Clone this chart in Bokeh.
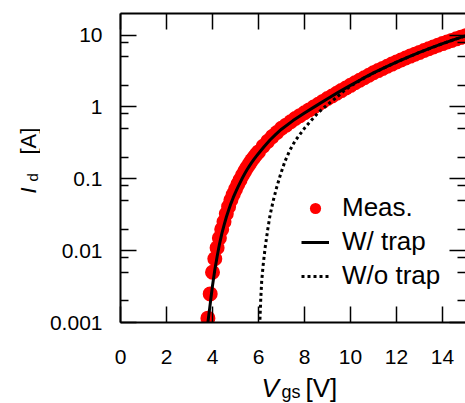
import math
from bokeh.plotting import figure
from bokeh.layouts import row, column
from bokeh.models import (Range1d, LogAxis, LinearAxis, FixedTicker, CustomJSTickFormatter,
                          Legend, LegendItem, Label, ColumnDataSource)
from bokeh.embed import file_html
from bokeh.resources import INLINE

# ---------------- data ----------------
vgs_meas = [3.8, 3.9, 4.0, 4.1, 4.2, 4.3, 4.4, 4.5, 4.6, 4.7, 4.8, 4.9, 5.0, 5.1, 5.2,
            5.3, 5.4, 5.5, 5.6, 5.7, 5.8, 5.9, 6.0, 6.2, 6.4, 6.6, 6.8, 7.0, 7.2, 7.4,
            7.6, 7.8, 8.0, 8.2, 8.4, 8.6, 8.8, 9.0, 9.2, 9.4, 9.6, 9.8, 10.0, 10.2, 10.4,
            10.6, 10.8, 11.0, 11.2, 11.4, 11.6, 11.8, 12.0, 12.2, 12.4, 12.6, 12.8, 13.0,
            13.2, 13.4, 13.6, 13.8, 14.0, 14.2, 14.4, 14.6, 14.8, 15.0]
id_meas = [0.00115, 0.0025, 0.0050, 0.0077, 0.0110, 0.0150, 0.0198, 0.0252, 0.0327, 0.0410,
           0.0506, 0.0606, 0.0714, 0.0838, 0.0967, 0.112, 0.127, 0.144, 0.161, 0.180, 0.198,
           0.218, 0.237, 0.284, 0.332, 0.387, 0.442, 0.505, 0.558, 0.623, 0.690, 0.757,
           0.83, 0.91, 0.997, 1.09, 1.195, 1.31, 1.42, 1.55, 1.69, 1.84, 2.0, 2.17, 2.36,
           2.55, 2.76, 2.99, 3.21, 3.44, 3.69, 3.95, 4.22, 4.50, 4.80, 5.11, 5.42, 5.75,
           6.10, 6.46, 6.84, 7.23, 7.62, 8.02, 8.45, 8.87, 9.31, 9.77]

vgs_wtrap = [3.78, 3.80, 3.85, 3.90, 3.95, 4.00, 4.10, 4.20, 4.30, 4.40, 4.50, 4.60, 4.70,
             4.80, 4.90, 5.00, 5.10, 5.20, 5.30, 5.40, 5.50, 5.60, 5.70, 5.80, 5.90, 6.00,
             6.25, 6.50, 6.75, 7.00, 7.50, 8.00, 8.50, 9.00, 9.50, 10.0, 10.5, 11.0, 11.5,
             12.0, 12.5, 13.0, 13.5, 14.0, 14.5, 15.0]
id_wtrap = [0.00089, 0.0010, 0.00135, 0.00180, 0.00243, 0.00324, 0.00537, 0.00822, 0.01216,
            0.0170, 0.02254, 0.0292, 0.0366, 0.0452, 0.0546, 0.0649, 0.0762, 0.0887, 0.1026,
            0.1175, 0.1334, 0.1503, 0.168, 0.1866, 0.2056, 0.2254, 0.282, 0.347, 0.415, 0.490,
            0.646, 0.822, 1.035, 1.303, 1.622, 1.995, 2.455, 2.985, 3.565, 4.217, 4.955,
            5.754, 6.653, 7.621, 8.670, 9.772]

vgs_wotrap = [6.05, 6.07, 6.10, 6.14, 6.20, 6.29, 6.40, 6.50, 6.65, 6.79, 6.95, 7.15, 7.35,
              7.59, 8.02, 8.30, 8.60, 9.00, 9.32, 9.70, 10.0, 10.5, 11.0, 12.0, 13.0, 14.0, 15.0]
id_wotrap = [0.0009, 0.00125, 0.0022, 0.0038, 0.0062, 0.0111, 0.0195, 0.031, 0.051, 0.076,
             0.113, 0.175, 0.245, 0.337, 0.516, 0.655, 0.834, 1.08, 1.30, 1.66, 1.95, 2.43,
             2.97, 4.21, 5.75, 7.62, 9.77]

series_labels = ["Meas.", "W/ trap", "W/o trap"]

x_ticks = [0, 2, 4, 6, 8, 10, 12, 14]
x_tick_labels = ["0", "2", "4", "6", "8", "10", "12", "14"]
y_ticks = [0.001, 0.01, 0.1, 1, 10]
y_tick_labels = ["0.001", "0.01", "0.1", "1", "10"]
y_minor_ticks = [0.002, 0.005, 0.008, 0.02, 0.05, 0.08, 0.2, 0.5, 0.8, 2, 5, 8]

FONT = "Liberation Sans"

# ---------------- layout sizes ----------------
W, H = 465, 403
YLAB_W = 40
XLAB_H = 28
MAIN_W, MAIN_H = W - YLAB_W, H - XLAB_H
FRAME_BOTTOM = 322   # canvas y of the plot frame's bottom edge (13 top + 309 frame)

p = figure(width=MAIN_W, height=MAIN_H, x_range=Range1d(0, 15), y_range=Range1d(0.001, 20),
           y_axis_type="log", output_backend="svg", toolbar_location=None,
           min_border_left=80, min_border_right=0, min_border_top=13,
           min_border_bottom=MAIN_H - FRAME_BOTTOM)
p.outline_line_color = None
p.grid.visible = False
p.background_fill_color = "white"
p.border_fill_color = "white"

def lookup_fmt(vals, labs):
    return CustomJSTickFormatter(args=dict(vals=vals, labs=labs), code="""
for (let i = 0; i < vals.length; i++) {
  if (Math.abs(vals[i] - tick) <= 1e-9 * Math.max(1, Math.abs(tick))) return labs[i];
}
return "";
""")

blank_fmt = CustomJSTickFormatter(code="return '';")

def style(ax, labels=True, minor=True, axis_line=True):
    ax.axis_line_width = 2
    ax.axis_line_color = "black" if axis_line else None
    ax.major_tick_in = 16
    ax.major_tick_out = 0
    ax.major_tick_line_width = 1.5
    ax.major_tick_line_color = "black"
    if minor:
        ax.minor_tick_in = 8
        ax.minor_tick_out = 0
        ax.minor_tick_line_width = 1.5
        ax.minor_tick_line_color = "black"
    else:
        ax.minor_tick_line_color = None
    ax.major_label_text_font = FONT
    ax.major_label_text_color = "black"
    if labels:
        ax.major_label_text_font_size = "21px"
    else:
        ax.major_label_text_font_size = "0px"
        ax.major_label_standoff = 0

xt = FixedTicker(ticks=x_ticks)
yt = FixedTicker(ticks=y_ticks, minor_ticks=y_minor_ticks)

bx = p.xaxis[0]
bx.ticker = xt
bx.formatter = lookup_fmt(x_ticks, x_tick_labels)
style(bx, minor=False)
bx.major_label_standoff = 27

ly = p.yaxis[0]
ly.ticker = yt
ly.formatter = lookup_fmt(y_ticks, y_tick_labels)
style(ly)
ly.major_label_standoff = 18

tx = LinearAxis(ticker=xt, formatter=blank_fmt)
style(tx, labels=False, minor=False)
p.add_layout(tx, "above")

ry = LogAxis(ticker=yt, formatter=blank_fmt)
style(ry, labels=False, axis_line=False)
p.add_layout(ry, "right")

# ---------------- data renderers ----------------
src_m = ColumnDataSource(dict(x=vgs_meas, y=id_meas))
src_w = ColumnDataSource(dict(x=vgs_wtrap, y=id_wtrap))
src_o = ColumnDataSource(dict(x=vgs_wotrap, y=id_wotrap))

r_m = p.scatter("x", "y", source=src_m, marker="circle", size=15,
                fill_color="#ff0000", line_color=None)
r_o = p.line("x", "y", source=src_o, line_color="black", line_width=3,
             line_dash="3 3", line_cap="butt")
r_w = p.line("x", "y", source=src_w, line_color="black", line_width=3)

legend = Legend(items=[LegendItem(label=series_labels[0], renderers=[r_m]),
                       LegendItem(label=series_labels[1], renderers=[r_w]),
                       LegendItem(label=series_labels[2], renderers=[r_o])],
                location=(181, 31), border_line_color=None, background_fill_alpha=0,
                padding=0, margin=0, spacing=3, glyph_width=28, glyph_height=30,
                label_height=30, label_standoff=13, label_text_font=FONT,
                label_text_font_size="26px", label_text_color="black")
p.add_layout(legend)

# ---------------- axis titles (with subscripts) in side strips ----------------
def strip(w, h):
    f = figure(width=w, height=h, x_range=Range1d(0, w), y_range=Range1d(0, h),
               output_backend="svg", toolbar_location=None,
               x_axis_location=None, y_axis_location=None,
               min_border=0, min_border_left=0, min_border_right=0,
               min_border_top=0, min_border_bottom=0)
    f.outline_line_color = None
    f.grid.visible = False
    f.background_fill_color = "white"
    f.border_fill_color = "white"
    return f

def lab(text, x, y, size, italic=False, angle=0.0):
    return Label(x=x, y=y, x_units="screen", y_units="screen", text=text,
                 text_font=FONT, text_font_size=size, text_color="black",
                 text_font_style="italic" if italic else "normal",
                 text_align="left", text_baseline="alphabetic", angle=angle)

# y title strip: its frame is aligned with the main frame (bottom at canvas y=322)
ys = strip(YLAB_W, MAIN_H)
for l in [lab("I", 28, FRAME_BOTTOM - 193, "22px", italic=True, angle=math.pi / 2),
          lab("d", 32, FRAME_BOTTOM - 181, "15px", angle=math.pi / 2),
          lab("[A]", 28, FRAME_BOTTOM - 154, "22px", angle=math.pi / 2)]:
    ys.add_layout(l)

# x title strip below (its frame bottom sits ~10 px below the window edge)
XS_BOTTOM = H + 10
xs = strip(W, XLAB_H)
for l in [lab("V", 261, XS_BOTTOM - 397, "26px", italic=True),
          lab("gs", 281, XS_BOTTOM - 401, "18px"),
          lab("[V]", 305, XS_BOTTOM - 397, "26px")]:
    xs.add_layout(l)

layout = column(row(ys, p, spacing=0), xs, spacing=0)

open("out.html", "w").write(file_html(layout, INLINE))
